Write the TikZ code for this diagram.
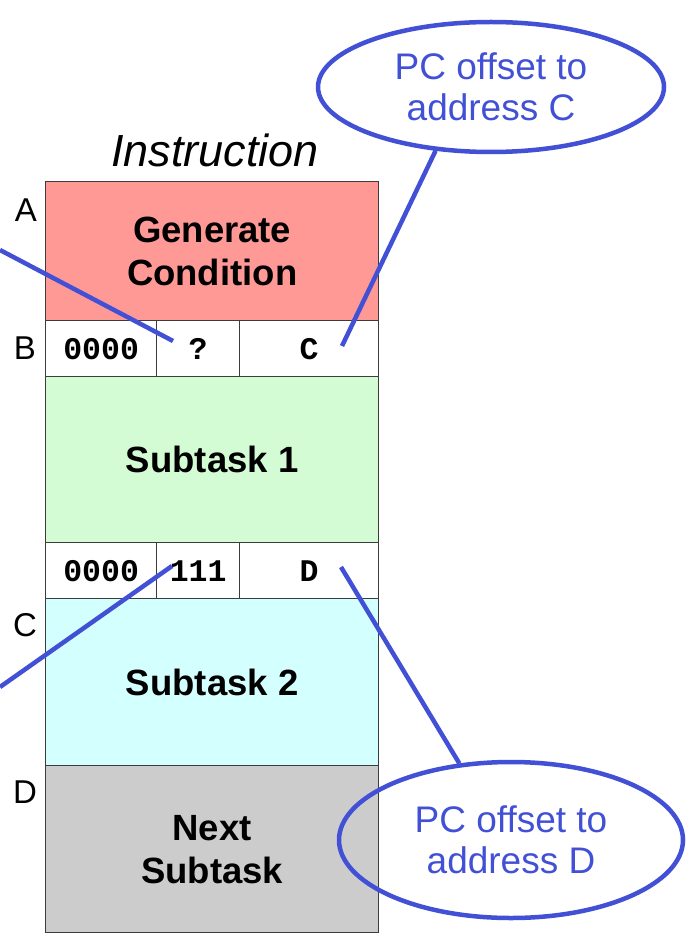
\documentclass[tikz,border=0pt]{standalone}
\usepackage{fontspec}
\setmainfont{Liberation Sans}
\newfontfamily\courfont{Liberation Mono}
\usetikzlibrary{shapes.geometric}
\definecolor{callblue}{RGB}{66,80,214}
\definecolor{redfill}{RGB}{255,153,150}
\definecolor{greenfill}{RGB}{212,252,212}
\definecolor{cyanfill}{RGB}{212,255,255}
\definecolor{grayfill}{RGB}{204,204,204}
\definecolor{edge}{RGB}{60,60,60}
\begin{document}
\begin{tikzpicture}[x=1pt,y=-1pt,
  blockbox/.style={draw=edge,line width=1.3pt,inner sep=0pt,anchor=north west,align=center,
     font=\fontsize{36.5}{43}\selectfont\bfseries},
  cellbox/.style={draw=edge,line width=1.3pt,inner sep=0pt,anchor=north west,fill=white,
     font=\courfont\fontsize{31.5}{34}\selectfont\bfseries},
  addr/.style={font=\fontsize{33}{38}\selectfont},
  callout/.style={ellipse,draw=callblue,line width=4.5pt,inner sep=0pt,align=center,
     text=callblue,font=\fontsize{37}{41}\selectfont},
  conn/.style={draw=callblue,line width=4.5pt}]
\useasboundingbox (0,0) rectangle (688,933);
% blocks
\node[blockbox,fill=redfill,minimum width=333pt,minimum height=139pt] (gen) at (45,181) {Generate\\Condition};
\node[blockbox,fill=greenfill,minimum width=333pt,minimum height=166pt] (sub1) at (45,376) {Subtask 1};
\node[blockbox,fill=cyanfill,minimum width=333pt,minimum height=167pt] (sub2) at (45,598) {Subtask 2};
\node[blockbox,fill=grayfill,minimum width=333pt,minimum height=167pt] (next) at (45,765) {Next\\Subtask};
% cell row B
\node[cellbox,minimum width=111pt,minimum height=56pt] (b1) at (45,320) {0000};
\node[cellbox,minimum width=83pt,minimum height=56pt] (b2) at (156,320) {?};
\node[cellbox,minimum width=139pt,minimum height=56pt] (b3) at (239,320) {C};
% cell row 2
\node[cellbox,minimum width=111pt,minimum height=56pt] (r1) at (45,542) {0000};
\node[cellbox,minimum width=83pt,minimum height=56pt] (r2) at (156,542) {111};
\node[cellbox,minimum width=139pt,minimum height=56pt] (r3) at (239,542) {D};
% title and address labels
\node[font=\fontsize{45}{50}\selectfont\itshape] (title) at (215,150) {Instruction};
\node[addr] (la) at (26,210) {A};
\node[addr] (lb) at (25,348) {B};
\node[addr] (lc) at (25,625) {C};
\node[addr] (ld) at (25,792) {D};
% callouts
\node[callout,minimum width=346pt,minimum height=130pt] (ellC) at (491,87) {PC offset to\\address C};
\node[callout,minimum width=344pt,minimum height=156pt] (ellD) at (511,840) {PC offset to\\address D};
% connector ends
\coordinate (qend) at (173,341);
\coordinate (qfree) at (0,250);
\coordinate (cend) at (342,346);
\coordinate (oneend) at (172,566);
\coordinate (onefree) at (0,687);
\coordinate (dend) at (341,567);
\draw[conn] (qfree) -- (qend);
\draw[conn] (cend) -- (ellC.229);
\draw[conn] (onefree) -- (oneend);
\draw[conn] (dend) -- (ellD.124);
\end{tikzpicture}
\end{document}
